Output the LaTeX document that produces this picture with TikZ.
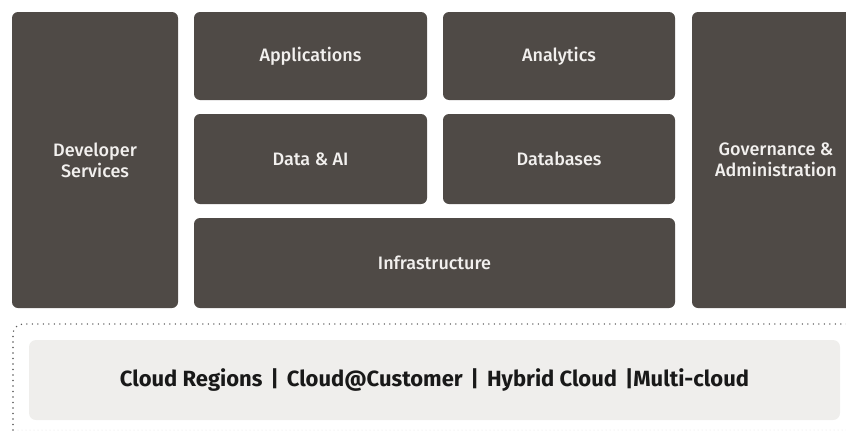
\documentclass[tikz,border=0pt]{standalone}
\usepackage{fontspec}
\setmainfont{Fira Sans}
\newfontfamily\tilefont{Fira Sans Medium}
\usepackage{xcolor}
\usepackage{tikz}
\usetikzlibrary{positioning}

\definecolor{tileDark}{HTML}{4F4A46}
\definecolor{tileText}{HTML}{F2F0EE}
\definecolor{baseLight}{HTML}{EFEEEC}
\definecolor{dotGray}{HTML}{5A5A5A}

\newcommand{\barsep}{\hspace{8pt}|\hspace{8pt}}

\begin{document}
\begin{tikzpicture}[x=1pt,y=-1pt,
    tile/.style={shape=rectangle, rounded corners=6pt, fill=tileDark,
                 text=tileText, font=\tilefont\fontsize{18}{21}\selectfont,
                 align=center, inner sep=0pt},
    base/.style={shape=rectangle, rounded corners=7pt, fill=baseLight,
                 text=black!90, font=\fontsize{22}{26}\selectfont\bfseries,
                 inner sep=0pt}]

  \useasboundingbox (0,0) rectangle (846,434);
  \clip (0,0) rectangle (846,434);

  % side columns
  \node[tile, minimum width=166pt, minimum height=296pt] (developer) at (95,160) {Developer\\Services};
  \node[tile, minimum width=168pt, minimum height=296pt] (governance) at (776,160) {Governance \&\\Administration};

  % middle tiles
  \node[tile, minimum width=233pt, minimum height=88pt] (apps) at (310.5,56) {Applications};
  \node[tile, minimum width=232pt, minimum height=88pt] (analytics) at (559,56) {Analytics};
  \node[tile, minimum width=233pt, minimum height=90pt] (dataai) at (310.5,159) {Data \& AI};
  \node[tile, minimum width=232pt, minimum height=90pt] (databases) at (559,159) {Databases};
  \node[tile, minimum width=481pt, minimum height=90pt] (infra) at (434.5,263) {Infrastructure};

  % deployment frame
  \draw[dotGray, line width=1.6pt, line cap=round, dash pattern=on 0pt off 5.5pt,
        rounded corners=10pt] (13,430) -- (13,324) -- (870,324);
  \draw[black!12, line width=1pt, line cap=round, dash pattern=on 0pt off 4pt] (18,430) -- (846,430);

  % deployment options
  \node[base, minimum width=811pt, minimum height=80pt] (regions) at (434.5,380)
    {Cloud Regions\barsep Cloud@Customer\barsep Hybrid Cloud\hspace{8pt}|Multi-cloud};

\end{tikzpicture}
\end{document}
